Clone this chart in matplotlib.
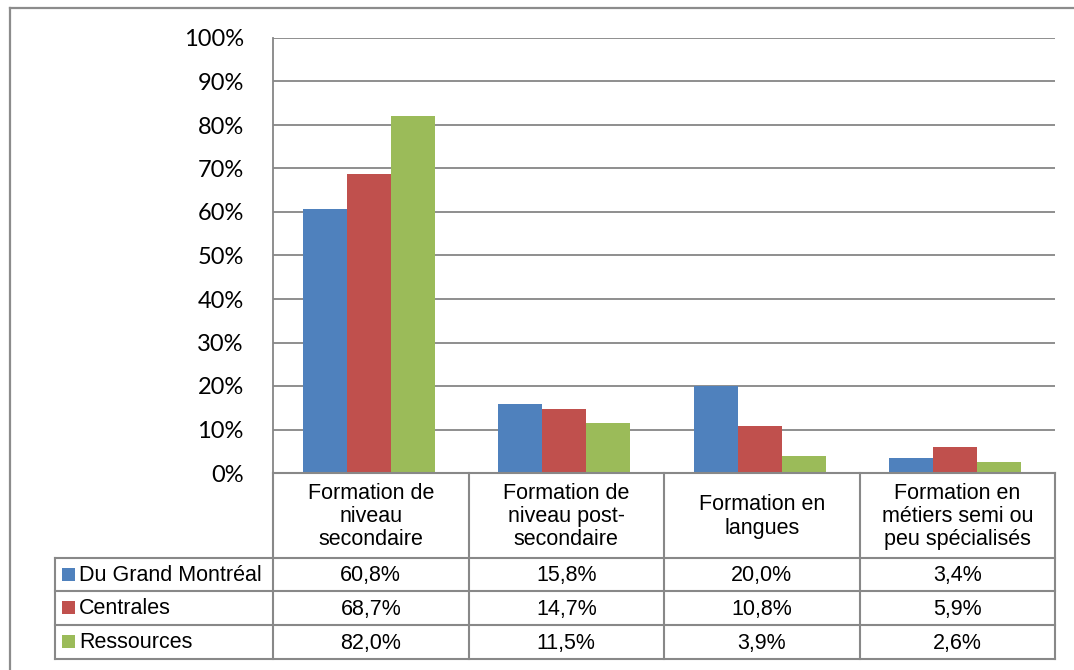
import matplotlib
matplotlib.use("Agg")
import matplotlib.pyplot as plt
import numpy as np

categories = ["Formation de\nniveau\nsecondaire",
              "Formation de\nniveau post-\nsecondaire",
              "Formation en\nlangues",
              "Formation en\nmétiers semi ou\npeu spécialisés"]
series_names = ["Du Grand Montréal", "Centrales", "Ressources"]
grand_montreal = [60.8, 15.8, 20.0, 3.4]
centrales = [68.7, 14.7, 10.8, 5.9]
ressources = [82.0, 11.5, 3.9, 2.6]
yticks = [0, 10, 20, 30, 40, 50, 60, 70, 80, 90, 100]

colors = ["#4F81BD", "#C0504D", "#9BBB59"]
grid_c = "#868686"

W, H = 1074, 670
fig = plt.figure(figsize=(W / 100, H / 100), dpi=100)

# plot area in pixels
L, R, T, B = 273, 1055, 38, 473
ax = fig.add_axes([L / W, (H - B) / H, (R - L) / W, (B - T) / H])
series = [grand_montreal, centrales, ressources]
x = np.arange(len(categories))
bw = 0.225
for i, (vals, c) in enumerate(zip(series, colors)):
    ax.bar(x + (i - 1) * bw - 0.01, vals, width=bw, color=c, zorder=3)
ax.set_xlim(-0.5, len(categories) - 0.5)
ax.set_ylim(0, 100)
ax.set_yticks(yticks)
ax.set_yticklabels([f"{v}%" for v in yticks], fontfamily="Lato", fontsize=17)
ax.tick_params(axis="y", length=0, pad=21)
for lab in ax.get_yticklabels():
    lab.set_y(lab.get_position()[1])
ax.set_xticks([])
for v in yticks[1:]:
    ax.axhline(v, color=grid_c, lw=1.3, zorder=1)
for s in ["top", "right", "bottom"]:
    ax.spines[s].set_visible(False)
ax.spines["left"].set_color(grid_c)
ax.spines["left"].set_linewidth(1.3)

# overlay for table and border, pixel coordinates
ov = fig.add_axes([0, 0, 1, 1], facecolor="none")
ov.set_xlim(0, W)
ov.set_ylim(H, 0)
ov.axis("off")

# outer chart border
ov.plot([10, W], [8, 8], color="#8c8c8c", lw=1.6)
ov.plot([10, 10], [8, H], color="#8c8c8c", lw=1.6)

tl = 55
rows_y = [B, 558, 591, 625, 659]
col_x = [L + (R - L) * k / len(categories) for k in range(len(categories) + 1)]
lc = "#888888"
lw = 1.5
ov.plot([L, R], [B, B], color=lc, lw=lw)
for yy in rows_y[1:]:
    ov.plot([tl, R], [yy, yy], color=lc, lw=lw)
ov.plot([tl, tl], [rows_y[1], rows_y[-1]], color=lc, lw=lw)
for xx in col_x:
    ov.plot([xx, xx], [B, rows_y[-1]], color=lc, lw=lw)

fs = 15.5
fam = "Liberation Sans"
for k, cat in enumerate(categories):
    cx = (col_x[k] + col_x[k + 1]) / 2
    ov.text(cx, (rows_y[0] + rows_y[1]) / 2 + 1, cat, ha="center", va="center",
            fontsize=fs, fontfamily=fam, linespacing=1.15)

for r, (name, vals, c) in enumerate(zip(series_names, series, colors)):
    y0, y1 = rows_y[r + 1], rows_y[r + 2]
    cy = (y0 + y1) / 2
    ov.add_patch(plt.Rectangle((62, cy - 7), 13, 13, color=c, lw=0))
    ov.text(79, cy + 1, name, ha="left", va="center", fontsize=fs, fontfamily=fam)
    for k, v in enumerate(vals):
        cx = (col_x[k] + col_x[k + 1]) / 2
        ov.text(cx, cy + 1, f"{v:.1f}%".replace(".", ","), ha="center", va="center",
                fontsize=fs, fontfamily=fam)

fig.savefig("out.png", dpi=100, facecolor="white")
